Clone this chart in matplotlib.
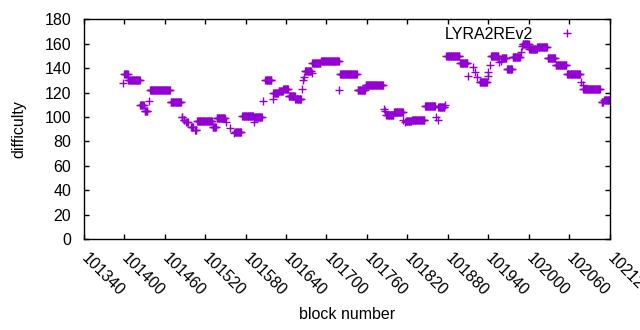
import numpy as np
import matplotlib
matplotlib.use("Agg")
import matplotlib.pyplot as plt

plt.rcParams["font.family"] = ["Liberation Sans", "DejaVu Sans"]

# runs of blocks with the same difficulty: first block, last block, difficulty
run_first = [
    101398, 101400, 101406, 101424, 101430, 101436, 101438, 101469, 101485, 101488,
    101492, 101499, 101505, 101508, 101531, 101537, 101551, 101557, 101563, 101564,
    101575, 101592, 101593, 101606, 101609, 101620, 101621, 101629, 101636, 101644,
    101654, 101663, 101665, 101667, 101668, 101678, 101679, 101692, 101719, 101720,
    101746, 101758, 101786, 101787, 101789, 101800, 101814, 101817, 101818, 101827,
    101846, 101863, 101865, 101866, 101876, 101878, 101898, 101910, 101917, 101921,
    101924, 101927, 101939, 101940, 101942, 101944, 101956, 101959, 101960, 101968,
    101976, 101988, 101990, 101991, 102001, 102013, 102028, 102040, 102057, 102077,
    102080, 102081, 102108, 102112,
]
run_last = [
    101398, 101405, 101423, 101429, 101434, 101436, 101468, 101484, 101486, 101489,
    101494, 101502, 101507, 101530, 101536, 101549, 101551, 101557, 101563, 101573,
    101591, 101592, 101604, 101606, 101618, 101620, 101628, 101635, 101643, 101653,
    101662, 101663, 101665, 101667, 101677, 101678, 101691, 101718, 101719, 101745,
    101757, 101784, 101786, 101787, 101799, 101813, 101814, 101817, 101826, 101845,
    101861, 101863, 101865, 101875, 101876, 101897, 101909, 101910, 101917, 101921,
    101924, 101938, 101939, 101940, 101942, 101955, 101956, 101959, 101967, 101975,
    101987, 101988, 101990, 102000, 102012, 102027, 102039, 102056, 102076, 102077,
    102080, 102106, 102110, 102120,
]
run_diff = [
    128, 135, 130, 110, 105, 113, 122, 112, 100, 98,
    96, 92, 89, 97, 92, 99, 96, 91, 87, 88,
    101, 96, 100, 113, 130, 115, 120, 121, 123, 117,
    115, 123, 130, 133, 138, 136, 144, 146, 122, 135,
    122, 126, 107, 105, 102, 104, 98, 96, 97, 98,
    109, 100, 98, 108, 110, 150, 144, 134, 141, 137,
    133, 129, 134, 137, 143, 150, 145, 146, 148, 139,
    149, 153, 158, 160, 156, 157, 148, 143, 135, 129,
    126, 123, 112, 114,
]

x_ticks = list(range(101340, 102121, 60))
y_ticks = list(range(0, 181, 20))

blocks = []
diffs = []
for first, last, d in zip(run_first, run_last, run_diff):
    for b in range(first, last + 1):
        blocks.append(b)
        diffs.append(d)

fig = plt.figure(figsize=(6.4, 3.3), dpi=100)
ax = fig.add_axes([0.131, 0.275, 0.8215, 0.6665])

ax.plot(blocks, diffs, linestyle="none", marker="+", markersize=5.5,
        markeredgewidth=1.0, color="#9400d3", label="LYRA2REv2")

ax.set_xlim(101340, 102120)
ax.set_ylim(0, 180)
ax.set_xticks(x_ticks)
ax.set_yticks(y_ticks)
ax.set_xticklabels([str(t) for t in x_ticks], rotation=-45, ha="left",
                   va="center", rotation_mode="anchor")
ax.tick_params(direction="in", length=3.5, width=1, top=True, right=True,
               labelsize=11.5, colors="black")
ax.tick_params(axis="x", pad=12)
ax.tick_params(axis="y", pad=9)
for s in ax.spines.values():
    s.set_linewidth(1)

ax.set_xlabel("block number", fontsize=11.5, labelpad=6)
ax.set_ylabel("difficulty", fontsize=11.5, labelpad=13)

ax.legend(loc="upper right", bbox_to_anchor=(0.949, 0.965), frameon=False,
          markerfirst=False, fontsize=11.5, handlelength=2, handletextpad=1.1,
          borderpad=0, borderaxespad=0)

fig.savefig("out.png", dpi=100)
